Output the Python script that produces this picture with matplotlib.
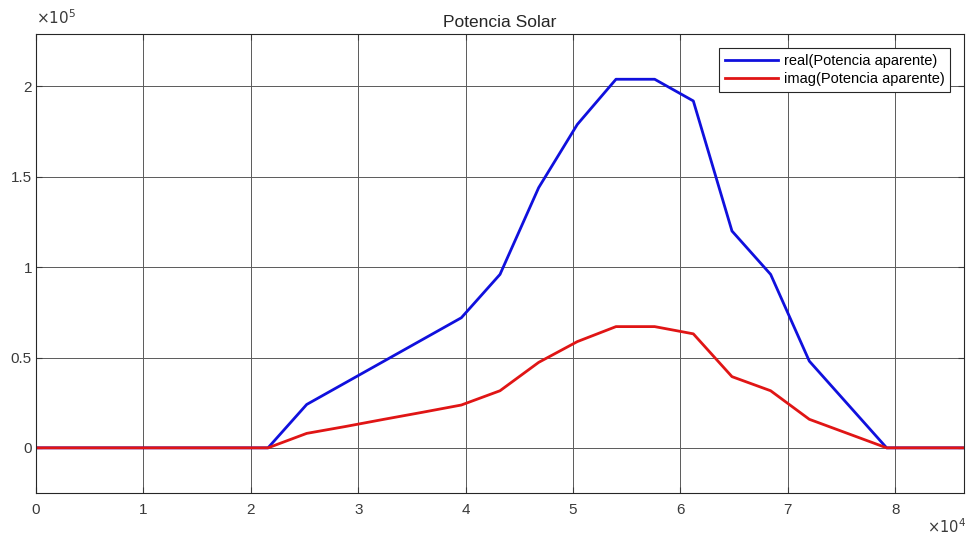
import matplotlib.pyplot as plt
from matplotlib.ticker import FuncFormatter

plt.rcParams['font.family'] = ['Liberation Sans', 'DejaVu Sans']

# hourly samples over one day (seconds)
hours = list(range(25))
tiempo = [h * 3600 for h in hours]
realP = [0, 0, 0, 0, 0, 0, 0, 24000, 36000, 48000, 60000, 72000, 96000, 144000,
         179000, 204000, 204000, 192000, 120000, 96000, 48000, 24000, 0, 0, 0]
imagP = [0, 0, 0, 0, 0, 0, 0, 8000, 11800, 15800, 19700, 23700, 31600, 47300,
         58800, 67100, 67100, 63100, 39400, 31600, 15800, 7900, 0, 0, 0]

xTicks = [0, 10000, 20000, 30000, 40000, 50000, 60000, 70000, 80000]
yTicks = [0, 50000, 100000, 150000, 200000]

fig = plt.figure(figsize=(9.69, 5.41), dpi=100)
ax = fig.add_axes([0.0372, 0.0887, 0.9576, 0.8483])

ax.plot(tiempo, realP, color='#1010dd', lw=2.0, label='real(Potencia aparente)')
ax.plot(tiempo, imagP, color='#e01515', lw=2.0, label='imag(Potencia aparente)')

ax.set_xlim(0, 86400)
ax.set_ylim(-25000, 229000)
ax.set_xticks(xTicks)
ax.set_yticks(yTicks)
ax.xaxis.set_major_formatter(FuncFormatter(lambda v, p: '{:g}'.format(v / 1e4)))
ax.yaxis.set_major_formatter(FuncFormatter(lambda v, p: '{:g}'.format(v / 1e5)))
ax.tick_params(direction='in', length=4, width=0.8, labelsize=11, colors='#3a3a3a',
               top=True, right=True)
ax.tick_params(axis='x', pad=7)
ax.tick_params(axis='y', pad=3)
ax.grid(True, color='#5a5a5a', lw=0.7)
for s in ax.spines.values():
	s.set_color('#262626')
	s.set_linewidth(0.8)

ax.set_title('Potencia Solar', fontsize=12.5, color='#262626', pad=5)
fig.text(0.037, 0.950, r'$\times10^5$', fontsize=11, color='#3a3a3a', ha='left', va='bottom')
fig.text(0.997, 0.010, r'$\times10^4$', fontsize=10.5, color='#3a3a3a', ha='right', va='bottom')

leg = ax.legend(loc='upper right', fontsize=10.5, handlelength=3.6, borderaxespad=0.95,
                fancybox=False, framealpha=1, edgecolor='#262626',
                borderpad=0.4, labelspacing=0.3, handletextpad=0.4)
leg.get_frame().set_linewidth(0.8)

plt.savefig('out.png', dpi=100)
